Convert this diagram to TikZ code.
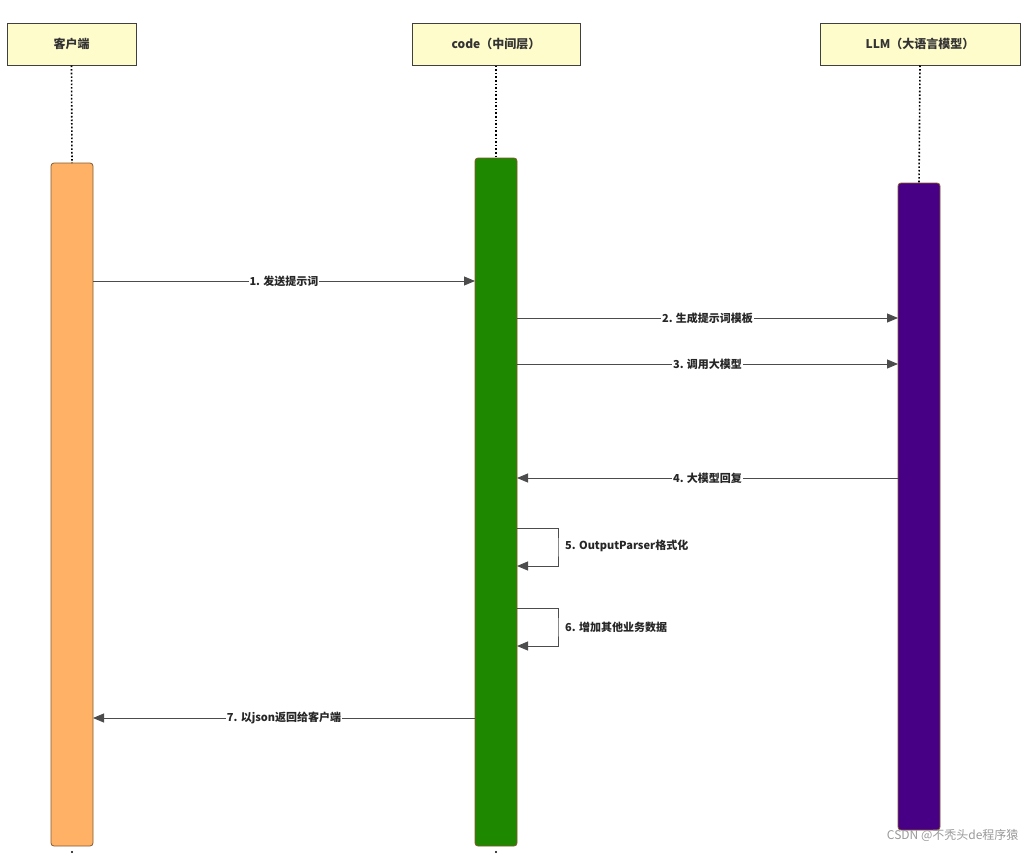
\documentclass[tikz,border=0pt]{standalone}
\usepackage{fontspec}
\setmainfont{Noto Sans CJK SC}
\usetikzlibrary{arrows.meta}
\begin{document}
\begin{tikzpicture}[x=1pt,y=-1pt,
 hdr/.style={draw=black!75,line width=1pt,fill=yellow!20!white,minimum height=42pt,font=\bfseries\fontsize{12}{14}\selectfont,text=black!80,inner sep=0pt},
 bar/.style={draw=brown!70!black,rounded corners=3pt,line width=0.8pt},
 msg/.style={draw=black!70,line width=0.9pt,-{Triangle[length=11pt,width=9pt]}},
 lab/.style={fill=white,font=\bfseries\fontsize{11}{13}\selectfont,text=black!85,inner sep=1pt},
 life/.style={dotted,line width=1.6pt}]
\useasboundingbox (0,0) rectangle (1024,854);
\node[hdr,minimum width=129pt] (h1) at (71.5,44) {客户端};
\node[hdr,minimum width=168pt] (h2) at (496,44) {code（中间层）};
\node[hdr,minimum width=200pt] (h3) at (920,44) {LLM（大语言模型）};
\draw[bar,fill=orange!60!white] (51,163) rectangle (93,846);
\draw[bar,fill=green!45!black!85!lime] (475,158) rectangle (517,846);
\draw[bar,fill=violet!70!blue!80!black] (898,183) rectangle (940,830);
\coordinate (b1) at (72,163); \coordinate (b2) at (496,158); \coordinate (b3) at (919,183);
\draw[life] (h1.south) -- (b1);
\draw[life] (h2.south) -- (b2);
\draw[life] (h3.south) -- (b3);
\fill (72,852) circle (1.2pt); \fill (496,852) circle (1.2pt);
\coordinate (c1) at (93,281); \coordinate (d1) at (475,281);
\draw[msg] (c1) -- node[lab]{1. 发送提示词} (d1);
\coordinate (c2) at (517,318); \coordinate (d2) at (898,318);
\draw[msg] (c2) -- node[lab]{2. 生成提示词模板} (d2);
\coordinate (c3) at (517,364); \coordinate (d3) at (898,364);
\draw[msg] (c3) -- node[lab]{3. 调用大模型} (d3);
\coordinate (c4) at (898,478); \coordinate (d4) at (517,478);
\draw[msg] (c4) -- node[lab]{4. 大模型回复} (d4);
\coordinate (c5) at (517,528); \coordinate (d5) at (517,566);
\draw[msg] (c5) -| (558,547) |- (d5);
\node[lab,anchor=west] (l5) at (564,546) {5. OutputParser格式化};
\coordinate (c6) at (517,608); \coordinate (d6) at (517,646);
\draw[msg] (c6) -| (558,627) |- (d6);
\node[lab,anchor=west] (l6) at (564,627) {6. 增加其他业务数据};
\coordinate (c7) at (475,718); \coordinate (d7) at (93,718);
\draw[msg] (c7) -- node[lab]{7. 以json返回给客户端} (d7);
\node[text=black!40,font=\fontsize{12}{14}\selectfont,anchor=east] (wm) at (1022,835) {CSDN @不秃头de程序猿};
\end{tikzpicture}
\end{document}
